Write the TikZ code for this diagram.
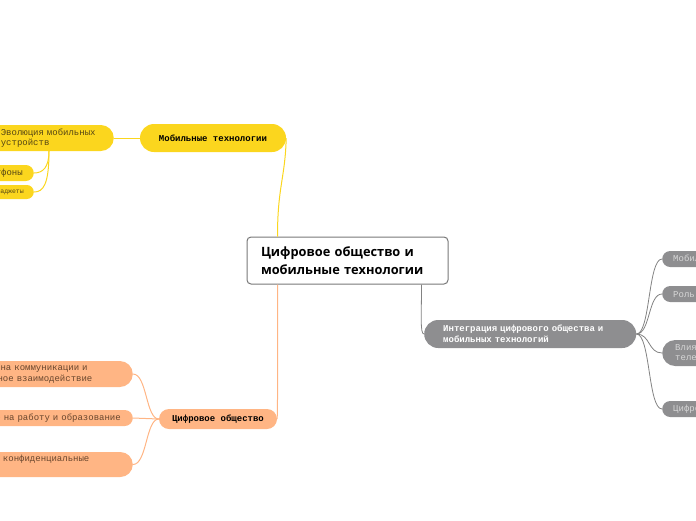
\documentclass[tikz,border=0pt]{standalone}
\usepackage{fontspec}
\setmainfont{Open Sans}
\setmonofont{Liberation Mono}
\usetikzlibrary{calc}
\definecolor{YellowClr}{RGB}{251,214,30}
\definecolor{OrangeClr}{RGB}{255,181,132}
\definecolor{GrayClr}{RGB}{142,142,144}
\definecolor{LineGrayClr}{RGB}{130,130,130}
\definecolor{FrameClr}{RGB}{120,120,120}
\definecolor{YTextClr}{RGB}{85,70,20}
\definecolor{OTextClr}{RGB}{105,70,45}
\definecolor{GTextClr}{RGB}{215,215,215}

\begin{document}
\begin{tikzpicture}[x=1pt,y=-1pt,
  pill/.style={rectangle,rounded corners=#1,minimum height=2*#1,inner ysep=0pt,
    align=left,font=\ttfamily\fontsize{9}{10.5}\selectfont},
  ypill/.style={pill=#1,fill=YellowClr,text=YTextClr},
  opill/.style={pill=#1,fill=OrangeClr,text=OTextClr},
  gpill/.style={pill=#1,fill=GrayClr,text=GTextClr},
  head/.style={font=\ttfamily\bfseries\fontsize{9}{11}\selectfont},
  rootbox/.style={draw=FrameClr,line width=1pt,fill=white,rounded corners=4,
    minimum width=201,minimum height=47,text width=173,inner xsep=14,align=left,
    font=\bfseries\fontsize{12.8}{17.5}\selectfont},
  yline/.style={draw=YellowClr,line width=1pt},
  oline/.style={draw=OrangeClr,line width=1pt},
  gline/.style={draw=LineGrayClr,line width=0.8pt}]
\useasboundingbox (0,0) rectangle (696,520);
\clip (0,0) rectangle (696,520);

\node[rootbox] (root) at (347.5,260.5) {Цифровое общество и\\мобильные технологии};

% mobile branch
\node[ypill=14,head,text=black,minimum width=146,align=center] (mob) at (213,138) {Мобильные технологии};
\node[ypill=13,anchor=east,text width=99,inner xsep=14] (evo) at (114,138) {Эволюция мобильных\\устройств};
\node[ypill=8,anchor=east,text width=60,inner xsep=11,align=right] (smart) at (34,173) {Смартфоны};
\node[ypill=7,anchor=east,text width=80,inner xsep=10,align=right,
  font=\ttfamily\fontsize{6.5}{8}\selectfont] (gadget) at (34,192) {Носимые гаджеты};

% digital society branch
\node[opill=10,head,text=black,minimum width=118,align=center] (dig) at (218,419) {Цифровое общество};
\node[opill=13,anchor=east,text width=159,inner xsep=14] (comm) at (133,374) {Влияние на коммуникации и\\социальное взаимодействие};
\node[opill=8,anchor=east,text width=180,inner xsep=12,align=right] (work) at (133,418) {Влияние на работу и образование};
\node[opill=12.5,anchor=east,text width=192,inner xsep=14] (priv) at (133,464.5) {Безопасность и конфиденциальные\\данные};

% integration branch
\node[gpill=14,head,text=white,anchor=west,text width=174,inner xsep=19,align=left] (integ) at (424,334) {Интеграция цифрового общества и\\мобильных технологий};
\node[gpill=8,anchor=west,text width=200,inner xsep=11] (gapp) at (662,259) {Мобильные приложения};
\node[gpill=8,anchor=west,text width=200,inner xsep=11] (grole) at (662,294) {Роль мобильных технологий};
\node[gpill=13,anchor=west,text width=200,inner xsep=13] (gtel) at (662,353) {Влияние мобильных технологий на\\телекоммуникации};
\node[gpill=8,anchor=west,text width=200,inner xsep=11] (gecon) at (662,409) {Цифровая экономика};

\draw[yline] ($(root.north west)+(31,0)$) .. controls +(0,-50) and +(-1,40) .. (mob.east);
\draw[yline] (mob.west) -- (evo.east);
\draw[yline] ($(evo.south east)+(-65,0)$) .. controls +(0,16) and +(9,0) .. (smart.east);
\draw[yline] ($(evo.south east)+(-65,0)$) .. controls +(0,34) and +(9,0) .. (gadget.east);

\draw[oline] ($(root.south west)+(31,0)$) .. controls +(0,80) and +(1,-60) .. (dig.east);
\draw[oline] (dig.west) .. controls +(-13,0) and +(14,0) .. (comm.east);
\draw[oline] (dig.west) .. controls +(-13,0) and +(13,0) .. (work.east);
\draw[oline] (dig.west) .. controls +(-13,0) and +(14,0) .. (priv.east);

\draw[gline] ($(root.south east)+(-27,0)$) .. controls +(0,32) and +(-4,0) .. (integ.west);
\draw[gline] (integ.east) .. controls +(14,0) and +(-14,0) .. (gapp.west);
\draw[gline] (integ.east) .. controls +(14,0) and +(-14,0) .. (grole.west);
\draw[gline] (integ.east) .. controls +(14,0) and +(-14,0) .. (gtel.west);
\draw[gline] (integ.east) .. controls +(14,0) and +(-14,0) .. (gecon.west);
\end{tikzpicture}
\end{document}
